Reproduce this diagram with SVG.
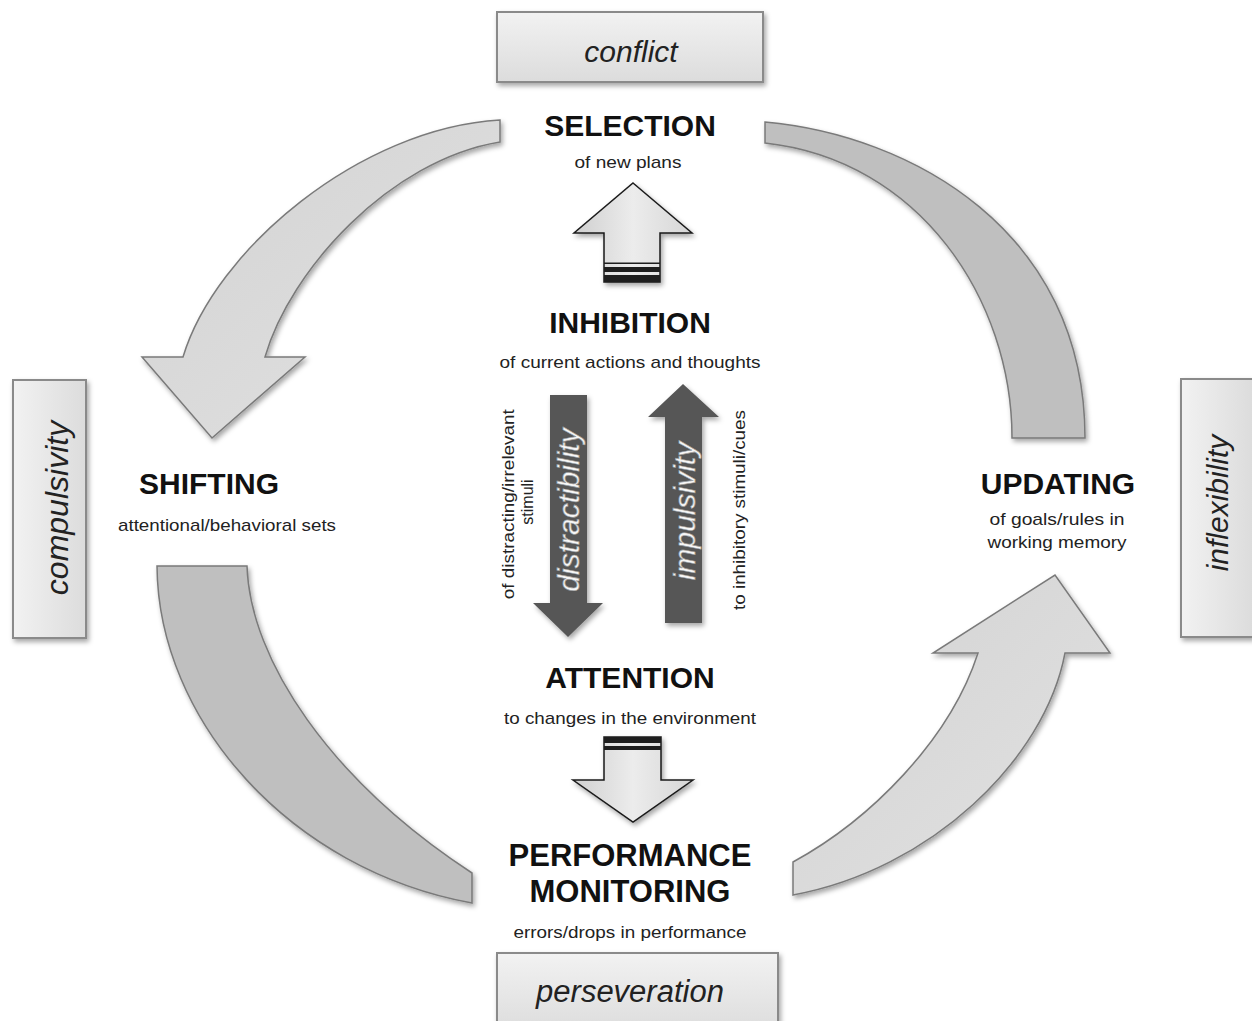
<svg xmlns="http://www.w3.org/2000/svg" width="1252" height="1021" viewBox="0 0 1252 1021">
  <defs>
    <filter id="shadow" x="-20%" y="-20%" width="140%" height="140%">
      <feDropShadow dx="2" dy="3" stdDeviation="2.5" flood-color="#000" flood-opacity="0.35"/>
    </filter>
    <linearGradient id="boxFill" x1="0" y1="0" x2="0" y2="1">
      <stop offset="0" stop-color="#f2f2f2"/>
      <stop offset="1" stop-color="#dcdcdc"/>
    </linearGradient>
    <linearGradient id="boxFillV" x1="0" y1="0" x2="1" y2="0">
      <stop offset="0" stop-color="#f2f2f2"/>
      <stop offset="1" stop-color="#dcdcdc"/>
    </linearGradient>
    <linearGradient id="headArrowFill" x1="0" y1="0" x2="1" y2="1">
      <stop offset="0" stop-color="#d2d2d2"/>
      <stop offset="1" stop-color="#e2e2e2"/>
    </linearGradient>
    <linearGradient id="blockFill" x1="0" y1="0" x2="1" y2="0">
      <stop offset="0" stop-color="#cfcfcf"/>
      <stop offset="0.5" stop-color="#ececec"/>
      <stop offset="1" stop-color="#d6d6d6"/>
    </linearGradient>
    <style>
      .title { font-family: "Liberation Sans", Arial, sans-serif; font-weight: bold; font-size: 30px; fill: #111; text-anchor: middle; }
      .sub { font-family: "Liberation Sans", Arial, sans-serif; font-size: 17px; fill: #222; text-anchor: middle; }
      .box { fill: url(#boxFill); stroke: #8a8a8a; stroke-width: 2; filter: url(#shadow); }
      .boxv { fill: url(#boxFillV); stroke: #8a8a8a; stroke-width: 2; filter: url(#shadow); }
      .boxText { font-family: "Liberation Sans", Arial, sans-serif; font-style: italic; font-size: 30px; fill: #222; text-anchor: middle; }
      .arc { fill: #bfbfbf; stroke: #7a7a7a; stroke-width: 1.5; filter: url(#shadow); }
      .curveArrow { fill: url(#headArrowFill); stroke: #7a7a7a; stroke-width: 1.5; filter: url(#shadow); }
      .block { fill: url(#blockFill); stroke: #1a1a1a; stroke-width: 1.5; filter: url(#shadow); }
      .stripe { fill: #1e1e1e; }
      .dark { fill: #575757; filter: url(#shadow); }
      .darkText { font-family: "Liberation Sans", Arial, sans-serif; font-style: italic; font-size: 30px; fill: #f6f6f6; stroke: #9a9a9a; stroke-width: 0.6; text-anchor: middle; }
      .sideText { font-family: "Liberation Sans", Arial, sans-serif; font-size: 16px; fill: #222; text-anchor: middle; }
    </style>
  </defs>

  <rect width="1252" height="1021" fill="#ffffff"/>

  <!-- connectors: the cycle arrows and the central block arrows -->
  <g id="connectors">
    <!-- selection -> shifting -->
    <path class="curveArrow" d="M500,120 C360,128 215,250 183,357 L142,357 L212,438 L305,357 L265,357 C290,270 390,160 500,142 Z"/>
    <!-- selection -> updating (arc) -->
    <path class="arc" d="M765,122 C910,135 1085,230 1085,438 L1012,438 C1012,300 920,160 765,143 Z"/>
    <!-- shifting -> performance monitoring (arc) -->
    <path class="arc" d="M157,566 L247,566 C250,660 330,780 472,873 L472,903 C290,870 158,720 157,566 Z"/>
    <!-- performance monitoring -> updating -->
    <path class="curveArrow" d="M793,862 C870,820 950,740 978,653 L933,653 L1055,575 L1110,653 L1065,653 C1045,760 930,870 793,895 Z"/>

    <!-- inhibition -> selection block arrow -->
    <g id="arrow-up">
      <path class="block" d="M633,183 L692,233 L660,233 L660,282 L604,282 L604,233 L574,233 Z"/>
      <rect class="stripe" x="604" y="262.5" width="56" height="1.5"/>
      <rect class="stripe" x="604" y="267" width="56" height="5"/>
      <rect class="stripe" x="604" y="275" width="56" height="7"/>
    </g>
    <!-- attention -> performance monitoring block arrow -->
    <g id="arrow-down">
      <path class="block" d="M604,737 L661,737 L661,780 L693,780 L633,822 L573,780 L604,780 Z"/>
      <rect class="stripe" x="604" y="737" width="57" height="6"/>
      <rect class="stripe" x="604" y="746" width="57" height="4"/>
    </g>

    <!-- distractibility: inhibition -> attention -->
    <g id="arrow-distractibility">
      <path class="dark" d="M550,395 L587,395 L587,603 L603,603 L568,637 L533,603 L550,603 Z"/>
      <text class="darkText" transform="translate(568,510) rotate(-90)" x="0" y="10.5">distractibility</text>
    </g>
    <!-- impulsivity: attention -> inhibition -->
    <g id="arrow-impulsivity">
      <path class="dark" d="M683,384 L719,417 L702,417 L702,623 L665,623 L665,417 L648,417 Z"/>
      <text class="darkText" transform="translate(684,511) rotate(-90)" x="0" y="10.5">impulsivity</text>
    </g>
    <text class="sideText" transform="translate(508,502) rotate(-90)">
      <tspan x="0" y="5.5" textLength="190" lengthAdjust="spacingAndGlyphs">of distracting/irrelevant</tspan>
      <tspan x="0" y="24.5">stimuli</tspan>
    </text>
    <text class="sideText" transform="translate(739,510) rotate(-90)" x="0" y="5.5" textLength="200" lengthAdjust="spacingAndGlyphs">to inhibitory stimuli/cues</text>
  </g>

  <!-- main stages -->
  <g id="selection">
    <text class="title" x="630" y="136">SELECTION</text>
    <text class="sub" x="628" y="168" textLength="107" lengthAdjust="spacingAndGlyphs">of new plans</text>
  </g>
  <g id="inhibition">
    <text class="title" x="630" y="333">INHIBITION</text>
    <text class="sub" x="630" y="368" textLength="261" lengthAdjust="spacingAndGlyphs">of current actions and thoughts</text>
  </g>
  <g id="shifting">
    <text class="title" x="209" y="494">SHIFTING</text>
    <text class="sub" x="227" y="531" textLength="218" lengthAdjust="spacingAndGlyphs">attentional/behavioral sets</text>
  </g>
  <g id="updating">
    <text class="title" x="1058" y="494">UPDATING</text>
    <text class="sub" x="1057" y="525" textLength="135" lengthAdjust="spacingAndGlyphs">of goals/rules in</text>
    <text class="sub" x="1057" y="548" textLength="139" lengthAdjust="spacingAndGlyphs">working memory</text>
  </g>
  <g id="attention">
    <text class="title" x="630" y="688">ATTENTION</text>
    <text class="sub" x="630" y="724" textLength="252" lengthAdjust="spacingAndGlyphs">to changes in the environment</text>
  </g>
  <g id="performance-monitoring">
    <text class="title" x="630" y="866" style="font-size:31px">PERFORMANCE</text>
    <text class="title" x="630" y="902" style="font-size:31px">MONITORING</text>
    <text class="sub" x="630" y="938" textLength="233" lengthAdjust="spacingAndGlyphs">errors/drops in performance</text>
  </g>

  <!-- deficit boxes -->
  <g id="conflict">
    <rect class="box" x="497" y="12" width="266" height="70"/>
    <text class="boxText" x="631" y="62">conflict</text>
  </g>
  <g id="perseveration">
    <rect class="box" x="497" y="953" width="281" height="80"/>
    <text class="boxText" x="630" y="1002" style="font-size:31px">perseveration</text>
  </g>
  <g id="compulsivity">
    <rect class="boxv" x="13" y="380" width="73" height="258"/>
    <text class="boxText" transform="translate(57,508) rotate(-90)" x="0" y="11" style="font-size:32px">compulsivity</text>
  </g>
  <g id="inflexibility">
    <rect class="boxv" x="1181" y="379" width="72" height="258"/>
    <text class="boxText" transform="translate(1217,503) rotate(-90)" x="0" y="11">inflexibility</text>
  </g>
</svg>
